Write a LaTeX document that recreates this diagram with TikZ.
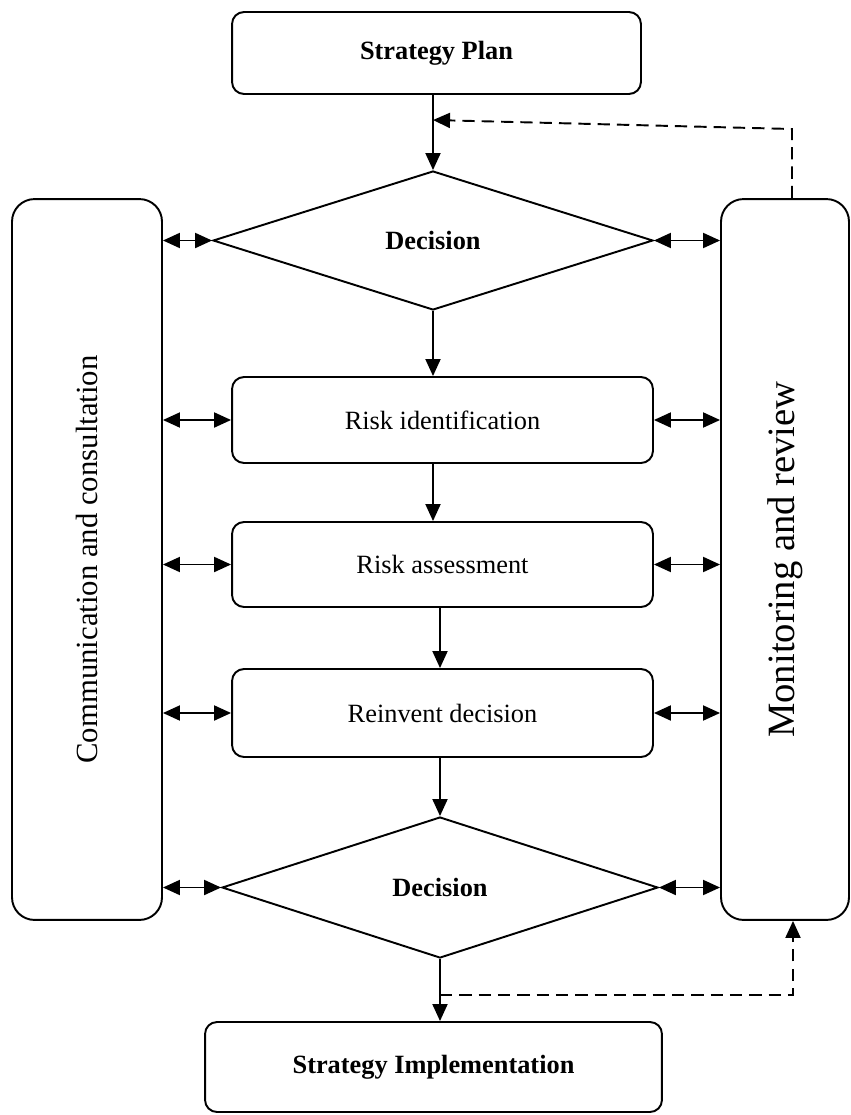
\documentclass[tikz,border=0pt]{standalone}
\usepackage{graphicx}
\usepackage{fontspec}
\setmainfont{Liberation Serif}
\usepackage{tikz}
\usetikzlibrary{positioning,arrows.meta,shapes.geometric,calc}

\begin{document}
\begin{tikzpicture}[
  x=0.02cm, y=-0.02cm,
  box/.style={draw, rectangle, rounded corners=0.24cm, line width=1.1pt, align=center, font=\fontsize{15}{18}\selectfont, inner sep=2pt},
  decision/.style={draw, diamond, line width=1.1pt, align=center, font=\fontsize{15}{18}\selectfont\bfseries, inner sep=0pt},
  side/.style={draw, rectangle, rounded corners=0.45cm, line width=1.1pt, font=\fontsize{22}{26}\selectfont, inner sep=0pt},
  arr/.style={-{Triangle[length=0.34cm, width=0.3cm]}, line width=1.1pt},
  both/.style={{Triangle[length=0.34cm, width=0.3cm]}-{Triangle[length=0.34cm, width=0.3cm]}, line width=1.1pt},
  fb/.style={-{Triangle[length=0.34cm, width=0.3cm]}, line width=1.1pt, dash pattern=on 7pt off 4pt},
]
  \useasboundingbox (0,0) rectangle (851,1115);

  \node[box, minimum width=8.18cm, minimum height=1.64cm, font=\fontsize{15}{18}\selectfont\bfseries] (plan) at (436.5,53) {Strategy Plan};
  \node[decision, minimum width=8.8cm, minimum height=2.78cm] (dec1) at (433,240.5) {Decision};
  \node[side, minimum width=3.0cm, minimum height=14.42cm, font=\fontsize{17.5}{21}\selectfont] (comm) at (87,559.5) {\rotatebox{90}{Communication and consultation}};
  \node[side, minimum width=2.56cm, minimum height=14.42cm] (monit) at (785,559.5) {\rotatebox{90}{Monitoring and review}};
  \node[box, minimum width=8.42cm, minimum height=1.72cm] (ident) at (442.5,420) {Risk identification};
  \node[box, minimum width=8.42cm, minimum height=1.7cm] (assess) at (442.5,564.5) {Risk assessment};
  \node[box, minimum width=8.42cm, minimum height=1.76cm] (reinvent) at (442.5,713) {Reinvent decision};
  \node[decision, minimum width=8.72cm, minimum height=2.82cm] (dec2) at (440,887.5) {Decision};
  \node[box, minimum width=9.14cm, minimum height=1.8cm, font=\fontsize{15}{18}\selectfont\bfseries] (impl) at (433.5,1067) {Strategy Implementation};

  \coordinate (up) at (792,129);
  \coordinate (back) at (433,120);
  \coordinate (low) at (440,995);
  \coordinate (lowr) at (793,995);

  % main flow
  \draw[arr] (dec1.north |- plan.south) -- (dec1.north);
  \draw[arr] (dec1.south) -- (dec1.south |- ident.north);
  \draw[arr] (dec1.south |- ident.south) -- (dec1.south |- assess.north);
  \draw[arr] (dec2.north |- assess.south) -- (dec2.north |- reinvent.north);
  \draw[arr] (dec2.north |- reinvent.south) -- (dec2.north);
  \draw[arr] (dec2.south) -- (dec2.south |- impl.north);

  % side links
  \draw[both] (comm.east |- dec1.west) -- (dec1.west);
  \draw[both] (dec1.east) -- (monit.west |- dec1.east);
  \draw[both] (comm.east |- ident.west) -- (ident.west);
  \draw[both] (ident.east) -- (monit.west |- ident.east);
  \draw[both] (comm.east |- assess.west) -- (assess.west);
  \draw[both] (assess.east) -- (monit.west |- assess.east);
  \draw[both] (comm.east |- reinvent.west) -- (reinvent.west);
  \draw[both] (reinvent.east) -- (monit.west |- reinvent.east);
  \draw[both] (comm.east |- dec2.west) -- (dec2.west);
  \draw[both] (dec2.east) -- (monit.west |- dec2.east);

  % feedback
  \draw[fb] (up |- monit.north) -- (up) -- (back);
  \draw[fb] (low) -- (lowr) -- (lowr |- monit.south);
\end{tikzpicture}
\end{document}
